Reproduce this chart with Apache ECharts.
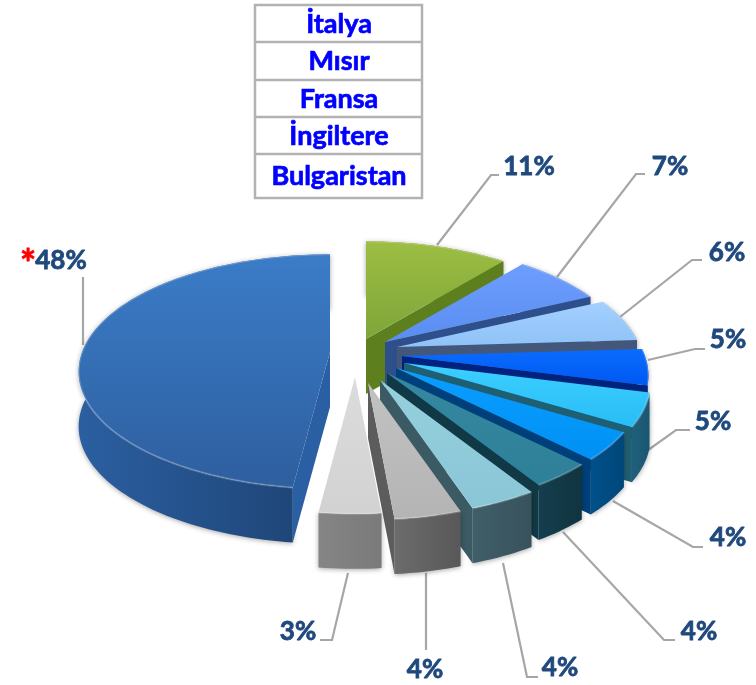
<!DOCTYPE html>
<html><head><meta charset="utf-8">
<style>html,body{margin:0;padding:0;background:#fff}#c{width:756px;height:685px}</style>
<script src="https://cdn.jsdelivr.net/npm/echarts@6/dist/echarts.min.js"></script>
</head><body><div id="c"></div>
<script>
// ---- data ----
const tableRows = ['İtalya','Mısır','Fransa','İngiltere','Bulgaristan'];
const sliceNames = ['İtalya','Mısır','Fransa','İngiltere','Bulgaristan','Diğer 1','Diğer 2','Diğer 3','Diğer 4','Diğer 5','Türkiye'];
const sliceValues = [11,7,6,5,4.6,3.9,3.5,3.8,3.75,3.45,48];
const sliceLabels = ['11%','7%','6%','5%','5%','4%','4%','4%','4%','3%','48%'];
// ---- style ----
const topColors = [['#9DBE43','#7FA53A'],['#6D9EFF','#5A8DF0'],['#A3D0FF','#8FC2F7'],['#0A6CFF','#0058F0'],['#3CCFFF','#28BDF5'],['#0A9EFF','#0090F5'],['#35889F','#2E8098'],['#96D0DF','#8AC6D6'],['#C2C2C2','#B4B4B4'],['#DCDCDC','#D2D2D2'],['#3B7CC8','#2E5F9F']];
const wallColors = [['#5E7F1E','#54741A'],['#34548F','#2B4A85'],['#45597A','#3F5372'],['#00237F','#00206F'],['#205F7C','#1A5670'],['#00508A','#00477A'],['#143E4E','#11343F'],['#3F5F69','#38525C'],['#6C6C6C','#585858'],['#858585','#7A7A7A'],['#2B5FA1','#1D4272']];
const faceColors = ['#5E7F1E','#2F4F8C','#43577A','#00237F','#1F5F72','#00407A','#103845','#3C5A64','#5C5C5C','#808080','#2A5FA3'];
// apex position of every exploded wedge, relative to the pie centre
const explode = [[-2,-21],[17,-18],[29,-13],[34,-4],[36,3],[28,8],[19,13],[12,20],[0,23],[-13,17],[-38,-8]];
const radiusScale = [1,1,1,1,1,1,1,1,1,1,1.02];
const leaders = [[[437,245],[491,175],[499,175]],[[557,277],[636,174],[645,174]],[[620,317],[692,260],[702,260]],[[648,360],[695,349],[705,349]],[[637,458],[676,430],[690,430]],[[613,501],[693,547],[703,547]],[[563,532],[664,640],[675,640]],[[503,563],[527,677],[538,677]],[[426,573],[426,650]],[[348,573],[332,640],[320,640]],[[83,345],[83,277]]];
const labelPos = [[529,167],[670,167],[727,253],[728,340],[713,422],[728,538],[699,632],[560,668],[425,670],[298,632],[61,261]];
const cx = 368, cy = 360, B = 243, A = 114, K = 1/6, depth = 55;
const font = 'Lato, "Open Sans", sans-serif';

const total = sliceValues.reduce((a,b)=>a+b,0);
const project = (t, ax, ay, sc) => {
  const u = Math.sin(t), v = Math.cos(t), s = 1/(1+K*v);
  return [ax + sc*B*u*s, ay - A*v*s];
};
function renderSlice(params, api){
  const i = params.dataIndex;
  const val = api.value(1);
  let before = 0; for(let j=0;j<i;j++) before += sliceValues[j];
  const t0 = before/total*2*Math.PI, t1 = (before+val)/total*2*Math.PI;
  const ax = cx+explode[i][0], ay = cy+explode[i][1];
  const arc = [];
  const n = Math.max(6, Math.round((t1-t0)*40));
  for(let k=0;k<=n;k++) arc.push(project(t0+(t1-t0)*k/n, ax, ay, radiusScale[i]));
  const down = p => [p[0], p[1]+depth];
  const children = [];
  const vg = (c)=>({type:'linear',x:0,y:0,x2:0,y2:1,colorStops:[{offset:0,color:c[0]},{offset:1,color:c[1]}]});
  const hg = (c)=>({type:'linear',x:0,y:0,x2:1,y2:0,colorStops:[{offset:0,color:c[0]},{offset:1,color:c[1]}]});
  // outer wall
  const wall = arc.concat(arc.slice().reverse().map(down));
  children.push({type:'polygon',shape:{points:wall},style:{fill:hg(wallColors[i]),shadowBlur:5,shadowColor:'rgba(0,0,0,0.35)',shadowOffsetY:1}});
  // cut faces, only those turned towards the viewer
  const apex=[ax,ay];
  if(Math.sin(t1)>0.001){
    const e=arc[arc.length-1];
    children.push({type:'polygon',shape:{points:[apex,e,down(e),down(apex)]},style:{fill:faceColors[i]}});
  }
  if(Math.sin(t0)<-0.001){
    const e=arc[0];
    children.push({type:'polygon',shape:{points:[apex,e,down(e),down(apex)]},style:{fill:faceColors[i]}});
  }
  // top face
  children.push({type:'polygon',shape:{points:[apex].concat(arc)},style:{fill:vg(topColors[i])}});
  // soft bevel along the rim
  children.push({type:'polyline',shape:{points:arc},style:{fill:null,stroke:'rgba(255,255,255,0.22)',lineWidth:2}});
  return {type:'group',children};
}
function renderLeader(params, api){
  const i = params.dataIndex;
  return {type:'polyline',shape:{points:leaders[i]},style:{stroke:'#A6A6A6',lineWidth:2.2,fill:null}};
}
function renderLabel(params, api){
  const i = params.dataIndex;
  return {type:'text',style:{text:sliceLabels[i],x:labelPos[i][0],y:labelPos[i][1],align:'center',verticalAlign:'middle',fill:'#1F497D',stroke:'#1F497D',lineWidth:0.8,font:'bold 26px '+font}};
}
const rowY=[5,42,80,117,154,198];
const tableGraphic=[{type:'rect',shape:{x:255,y:5,width:167,height:193},style:{fill:'#fff',stroke:'#B2B2B2',lineWidth:2.5}}];
tableRows.forEach((name,i)=>{
  if(i>0) tableGraphic.push({type:'line',shape:{x1:255,y1:rowY[i],x2:422,y2:rowY[i]},style:{stroke:'#B2B2B2',lineWidth:2.5}});
  tableGraphic.push({type:'text',style:{text:name,x:339,y:(rowY[i]+rowY[i+1])/2+0.5,align:'center',verticalAlign:'middle',fill:'#0000FF',stroke:'#0000FF',lineWidth:0.7,font:'bold 27px '+font}});
});
tableGraphic.push({type:'text',style:{text:'*',x:28,y:265,align:'center',verticalAlign:'middle',fill:'#FF0000',stroke:'#FF0000',lineWidth:0.8,font:'bold 38px '+font}});
const rows = sliceValues.map((v,i)=>[sliceNames[i],v]);
const chart = echarts.init(document.getElementById('c'),null,{renderer:'canvas'});
chart.setOption({
  animation:false,
  backgroundColor:'#fff',
  dataset:{source:rows},
  graphic:tableGraphic,
  series:[
    {type:'custom',coordinateSystem:'none',renderItem:renderLeader,encode:{value:1},z:1,silent:true},
    {type:'custom',coordinateSystem:'none',renderItem:renderSlice,encode:{value:1},z:2},
    {type:'custom',coordinateSystem:'none',renderItem:renderLabel,encode:{value:1},z:3,silent:true}
  ]
});
</script></body></html>
